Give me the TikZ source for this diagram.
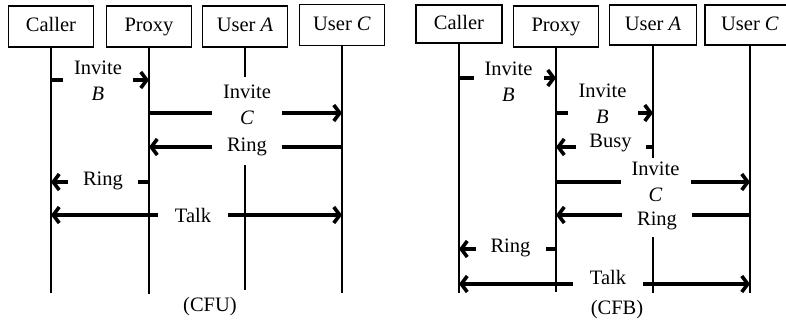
\documentclass[tikz,border=0pt]{standalone}
\usepackage{fontspec}
\setmainfont{Liberation Serif}
\usetikzlibrary{arrows.meta}
\begin{document}
\begin{tikzpicture}[x=1pt,y=-1pt,
  txt/.style={font=\fontsize{20.5}{26}\selectfont},
  actor/.style={txt, draw, line width=1.8pt, minimum height=41pt,
    minimum width=85pt, inner sep=0pt, text height=14pt, text depth=3pt},
  life/.style={line width=1.3pt},
  msg/.style={line width=4.5pt, -{Straight Barb[length=6pt,width=16pt,line width=3.6pt]}},
  msgboth/.style={line width=4.5pt,
    {Straight Barb[length=6pt,width=16pt,line width=3.6pt]}-{Straight Barb[length=6pt,width=16pt,line width=3.6pt]}},
  lbl/.style={txt, fill=white, inner sep=0pt, minimum width=70pt, align=center}]
\useasboundingbox (0,0) rectangle (786,321);
\clip (0,0) rectangle (786,321);

% ---------------- CFU ----------------
\node[actor] (c1) at (51,26.5) {Caller};
\node[actor] (p1) at (149,26.5) {Proxy};
\node[actor] (a1) at (245,26.5) {User \textit{A}};
\node[actor] (u1) at (342,25) {User \textit{C}};

\coordinate (c1e) at (51,293);
\coordinate (p1e) at (149,294);
\coordinate (a1e) at (245,290);
\coordinate (u1e) at (342,293);
\draw[life] (c1) -- (c1e);
\draw[life] (p1) -- (p1e);
\draw[life] (a1) -- (a1e);
\draw[life] (u1) -- (u1e);

\coordinate (l1) at (0,80);
\coordinate (l2) at (0,113);
\coordinate (l3) at (0,147);
\coordinate (l4) at (0,182);
\coordinate (l5) at (0,215);
\draw[msg] (c1 |- l1) -- (p1 |- l1);
\draw[msg] (p1 |- l2) -- (u1 |- l2);
\draw[msg] (u1 |- l3) -- (p1 |- l3);
\draw[msg] (p1 |- l4) -- (c1 |- l4);
\draw[msgboth] (c1 |- l5) -- (u1 |- l5);

\node[lbl] (t11) at (98,81) {Invite\\\textit{B}};
\node[lbl, minimum height=56pt] (t12) at (247,105) {Invite\\\textit{C}};
\node[lbl, minimum height=36pt] (t13) at (247,147) {Ring};
\node[lbl] (t14) at (103,181) {Ring};
\node[lbl] (t15) at (193,215) {Talk};
\node[txt] (cap1) at (210,307) {(CFU)};

% ---------------- CFB ----------------
\node[actor, minimum width=86pt, minimum height=38pt] (c2) at (459,24) {Caller};
\node[actor] (p2) at (556,26.5) {Proxy};
\node[actor, minimum width=87pt, minimum height=40pt] (a2) at (653,25) {User \textit{A}};
\node[actor, minimum width=90pt, minimum height=40pt] (u2) at (750,25) {User \textit{C}};

\coordinate (c2e) at (459,293);
\coordinate (p2e) at (556,292);
\coordinate (a2e) at (653,293);
\coordinate (u2e) at (750,293);
\draw[life] (c2) -- (c2e);
\draw[life] (p2) -- (p2e);
\draw[life] (a2) -- (a2e);
\draw[life] (u2) -- (u2e);

\coordinate (k1) at (0,78);
\coordinate (k2) at (0,113);
\coordinate (k3) at (0,147);
\coordinate (k4) at (0,182);
\coordinate (k5) at (0,215);
\coordinate (k6) at (0,249);
\coordinate (k7) at (0,284);
\draw[msg] (c2 |- k1) -- (p2 |- k1);
\draw[msg] (p2 |- k2) -- (a2 |- k2);
\draw[msg] (a2 |- k3) -- (p2 |- k3);
\draw[msg] (p2 |- k4) -- (u2 |- k4);
\draw[msg] (u2 |- k5) -- (p2 |- k5);
\draw[msg] (p2 |- k6) -- (c2 |- k6);
\draw[msgboth] (c2 |- k7) -- (u2 |- k7);

\node[lbl] (t21) at (508.5,81.5) {Invite\\\textit{B}};
\node[lbl] (t22) at (602.5,104) {Invite\\\textit{B}};
\node[lbl] (t23) at (610.5,143) {Busy};
\node[lbl, minimum height=47pt] (t24) at (655.5,181.5) {Invite\\\textit{C}};
\node[lbl, minimum height=32pt] (t25) at (657,221) {Ring};
\node[lbl] (t26) at (510.5,248) {Ring};
\node[lbl, minimum height=24pt] (t27) at (608,277) {Talk};
\node[txt] (cap2) at (617,310) {(CFB)};
\end{tikzpicture}
\end{document}
